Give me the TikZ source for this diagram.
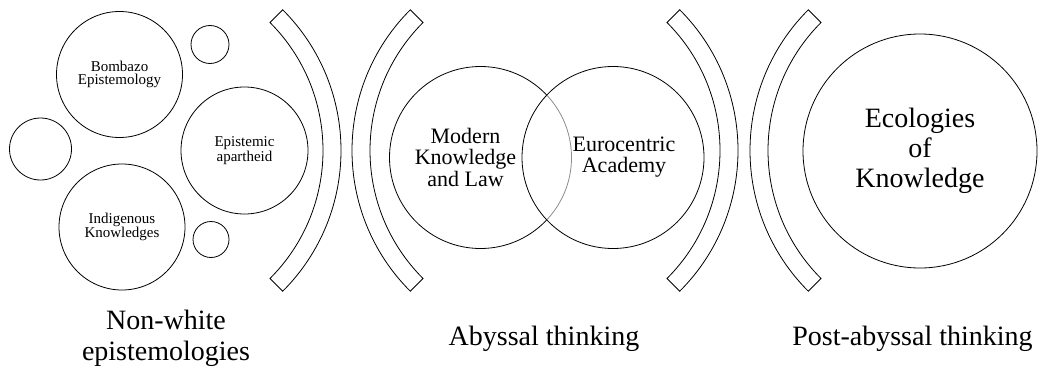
\documentclass[tikz,border=0pt]{standalone}
\usepackage{fontspec}
\setmainfont{Liberation Serif}
\begin{document}
\begin{tikzpicture}[x=1pt,y=-1pt,
  circ/.style={circle,draw=black,line width=0.8pt,inner sep=0pt,minimum size=#1},
  bracketshape/.style={draw=black,line width=0.8pt,line join=miter},
  smalltxt/.style={align=center,font=\fontsize{15}{13}\selectfont},
  midtxt/.style={align=center,font=\fontsize{22}{21.5}\selectfont,inner sep=0pt},
  bigtxt/.style={align=center,font=\fontsize{28}{30}\selectfont},
  captxt/.style={align=center,font=\fontsize{28}{31}\selectfont,inner sep=0pt}]
\useasboundingbox (0,0) rectangle (1040,369);

% left cluster
\node[circ=126pt,smalltxt] (bombazo) at (119.5,74.5) {Bombazo\\Epistemology};
\node[circ=38pt] (topsmall) at (210,44.5) {};
\node[circ=62pt] (leftsmall) at (40.5,149) {};
\node[circ=127pt,smalltxt] (epistemic) at (244.5,150.5) {Epistemic\\apartheid};
\node[circ=126pt,smalltxt] (indigenous) at (122,227) {Indigenous\\Knowledges};
\node[circ=36pt] (botsmall) at (211,239.5) {};

% brackets
\draw[bracketshape] ([shift={(142,150.5)}]-45:199) arc[start angle=-45,end angle=45,radius=199]
  -- ([shift={(142,150.5)}]45:181) arc[start angle=45,end angle=-45,radius=181] -- cycle;
\draw[bracketshape] ([shift={(551,150.5)}]135:199) arc[start angle=135,end angle=225,radius=199]
  -- ([shift={(551,150.5)}]225:181) arc[start angle=225,end angle=135,radius=181] -- cycle;
\draw[bracketshape] ([shift={(539,150.5)}]-45:199) arc[start angle=-45,end angle=45,radius=199]
  -- ([shift={(539,150.5)}]45:181) arc[start angle=45,end angle=-45,radius=181] -- cycle;
\draw[bracketshape] ([shift={(949,150.5)}]135:199) arc[start angle=135,end angle=225,radius=199]
  -- ([shift={(949,150.5)}]225:181) arc[start angle=225,end angle=135,radius=181] -- cycle;

% middle venn
\node[circ=182pt] (modern) at (480.5,157.5) {};
\node[circ=182pt,fill=white,fill opacity=0.55] (euro) at (613,157.5) {};
\node[midtxt] (modernT) at (465.5,157) {Modern\\Knowledge\\and Law};
\node[midtxt] (euroT) at (624,157) {Eurocentric\\Academy};

% right
\node[circ=234pt,bigtxt] (eco) at (920,151) {Ecologies\\of\\Knowledge};

% captions
\node[captxt] (cap1) at (166,338) {Non-white\\epistemologies};
\node[captxt,anchor=base] (cap2) at (544,345) {Abyssal thinking};
\node[captxt,anchor=base] (cap3) at (912.5,345) {Post-abyssal thinking};
\end{tikzpicture}
\end{document}
